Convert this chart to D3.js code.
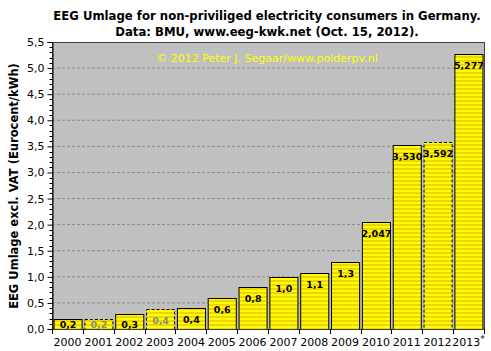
<!DOCTYPE html>
<html>
<head>
<meta charset="utf-8">
<script src="https://cdn.jsdelivr.net/npm/d3@7"></script>
<style>
  body { margin: 0; background: #ffffff; }
  text { font-family: "DejaVu Sans", Verdana, sans-serif; }
</style>
</head>
<body>
<div id="chart"></div>
<script>

// data
const years = ["2000", "2001", "2002", "2003", "2004", "2005", "2006", "2007", "2008", "2009", "2010", "2011", "2012", "2013"];
const values = [0.19, 0.19, 0.29, 0.38, 0.40, 0.59, 0.80, 0.99, 1.08, 1.29, 2.047, 3.530, 3.592, 5.277];
const valueLabels = ["0,2", "0,2", "0,3", "0,4", "0,4", "0,6", "0,8", "1,0", "1,1", "1,3", "2,047", "3,530", "3,592", "5,277"];
// years drawn with dashed outline (estimates / provisional)
const dashedYears = ["2001", "2003", "2012"];
const greyLabelYears = ["2001", "2003"];
const yTicks = [0, 0.5, 1, 1.5, 2, 2.5, 3, 3.5, 4, 4.5, 5, 5.5];

const W = 491, H = 351;
const margin = {top: 42, right: 7, bottom: 22, left: 52};
const width = W - margin.left - margin.right;
const height = H - margin.top - margin.bottom;

const svg = d3.select("#chart").append("svg")
    .attr("width", W)
    .attr("height", H);

// stripe pattern for bars
const defs = svg.append("defs");
const pat = defs.append("pattern")
    .attr("id", "stripes")
    .attr("patternUnits", "userSpaceOnUse")
    .attr("width", 8).attr("height", 4);
pat.append("rect").attr("width", 8).attr("height", 4).attr("fill", "#ffff00");
pat.append("rect").attr("y", 2).attr("width", 8).attr("height", 2).attr("fill", "#f0d400");

// titles
svg.append("text")
    .attr("x", 267).attr("y", 20)
    .attr("text-anchor", "middle")
    .attr("font-size", "11.7px").attr("font-weight", "bold")
    .attr("fill", "#000")
    .text("EEG Umlage for non-priviliged electricity consumers in Germany.");
svg.append("text")
    .attr("x", 267).attr("y", 36)
    .attr("text-anchor", "middle")
    .attr("font-size", "11.7px").attr("font-weight", "bold")
    .attr("fill", "#000")
    .text("Data: BMU, www.eeg-kwk.net (Oct. 15, 2012).");

const g = svg.append("g")
    .attr("transform", "translate(" + margin.left + "," + margin.top + ")");

// scales
const x = d3.scaleBand()
    .domain(years)
    .range([0, width])
    .paddingInner(0.09)
    .paddingOuter(0.05);
const y = d3.scaleLinear()
    .domain([0, 5.5])
    .range([height, 0]);

// plot background
g.append("rect")
    .attr("width", width).attr("height", height)
    .attr("fill", "#c0c0c0");

// grid lines
g.selectAll("line.grid")
    .data(yTicks.filter(d => d > 0 && d < 5.5))
    .enter().append("line")
    .attr("class", "grid")
    .attr("x1", 0).attr("x2", width)
    .attr("y1", d => y(d)).attr("y2", d => y(d))
    .attr("stroke", "#8c8c8c")
    .attr("stroke-dasharray", "3,2");

// watermark
g.append("text")
    .attr("x", 267 - margin.left).attr("y", 62 - margin.top)
    .attr("text-anchor", "middle")
    .attr("font-size", "11px")
    .attr("fill", "#ffff00")
    .text("\u00a9 2012 Peter J. Segaar/www.polderpv.nl");

// bars
const data = years.map((yr, i) => ({year: yr, value: values[i], label: valueLabels[i]}));

g.selectAll("rect.bar")
    .data(data)
    .enter().append("rect")
    .attr("class", "bar")
    .attr("x", d => x(d.year) + 0.5)
    .attr("width", x.bandwidth())
    .attr("y", d => Math.round(y(d.value)) + 0.5)
    .attr("height", d => height - Math.round(y(d.value)))
    .attr("fill", "url(#stripes)")
    .attr("stroke", "#000")
    .attr("stroke-dasharray", d => dashedYears.includes(d.year) ? "3,2" : null);

g.selectAll("text.bar-label")
    .data(data)
    .enter().append("text")
    .attr("class", "bar-label")
    .attr("x", d => x(d.year) + x.bandwidth() / 2 + 0.5)
    .attr("y", d => Math.min(y(d.value) + 15, height - 1.5))
    .attr("text-anchor", "middle")
    .attr("font-size", "9.5px").attr("font-weight", "bold")
    .attr("fill", d => greyLabelYears.includes(d.year) ? "#8a8a8a" : "#000")
    .text(d => d.label);

// plot frame
g.append("rect")
    .attr("x", 0.5).attr("y", 0.5)
    .attr("width", width).attr("height", height)
    .attr("fill", "none")
    .attr("stroke", "#404040");

// y axis with minor ticks
const yAxis = d3.axisLeft(y)
    .tickValues(yTicks)
    .tickSize(5)
    .tickFormat(d => d3.format(".1f")(d).replace(".", ","));
const yAx = g.append("g")
    .attr("class", "y-axis")
    .attr("transform", "translate(0.5,0)")
    .call(yAxis);
yAx.select(".domain").attr("stroke", "#000");
yAx.selectAll("text").attr("font-size", "11px").attr("fill", "#000").attr("x", -8).attr("font-family", "DejaVu Sans, Verdana, sans-serif");

const minor = d3.range(0, 56).map(d => d / 10).filter(d => Math.round(d * 10) % 5 !== 0);
g.selectAll("line.minor")
    .data(minor)
    .enter().append("line")
    .attr("class", "minor")
    .attr("x1", -2.5).attr("x2", 0.5)
    .attr("y1", d => Math.round(y(d)) + 0.5).attr("y2", d => Math.round(y(d)) + 0.5)
    .attr("stroke", "#000");

// x axis: ticks between bars
const boundaries = [0].concat(years.map(yr => x(yr) + x.bandwidth() + x.step() * x.paddingInner() / 2));
g.selectAll("line.xtick")
    .data(boundaries)
    .enter().append("line")
    .attr("class", "xtick")
    .attr("x1", d => Math.round(d) + 0.5).attr("x2", d => Math.round(d) + 0.5)
    .attr("y1", height).attr("y2", height + 5)
    .attr("stroke", "#000");

const xAx = g.append("g")
    .attr("transform", "translate(0," + height + ")")
    .call(d3.axisBottom(x).tickSize(0).tickPadding(9));
xAx.select(".domain").remove();
xAx.selectAll("text")
    .attr("font-size", "11px").attr("fill", "#000")
    .attr("font-family", "DejaVu Sans, Verdana, sans-serif");
xAx.selectAll(".tick").filter(d => d === "2013").select("text")
    .append("tspan").attr("dy", "-4").attr("font-size", "9px").text("*");

// y axis title
svg.append("text")
    .attr("transform", "translate(18,186) rotate(-90)")
    .attr("text-anchor", "middle")
    .attr("font-size", "11.5px").attr("font-weight", "bold")
    .attr("fill", "#000")
    .text("EEG Umlage excl. VAT (Eurocent/kWh)");

</script>
</body>
</html>
